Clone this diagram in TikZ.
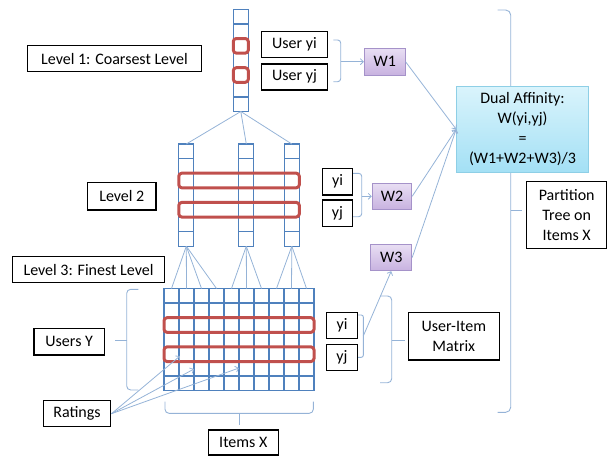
\documentclass[tikz,border=0pt]{standalone}
\usepackage{fontspec}
\setmainfont{Carlito}
\usetikzlibrary{positioning,arrows.meta,fit}

\definecolor{gridblue}{HTML}{4F81BD}
\definecolor{lineblue}{HTML}{95B3D7}
\definecolor{hlred}{HTML}{C0504D}
\definecolor{wtop}{HTML}{E8DEF3}
\definecolor{wbot}{HTML}{C8B2E0}
\definecolor{wborder}{HTML}{A592C9}
\definecolor{dtop}{HTML}{DAF4FC}
\definecolor{dbot}{HTML}{A3E0F5}
\definecolor{dborder}{HTML}{8ECFE6}

\begin{document}
\begin{tikzpicture}[x=1pt,y=-1pt,
  cell/.style={draw=gridblue, line width=1.3pt, minimum width=15pt, minimum height=14.6pt, inner sep=0pt, outer sep=0pt},
  hl/.style={draw=hlred, line width=3pt, rounded corners=3pt},
  tree/.style={draw=lineblue, line width=0.8pt},
  brace/.style={draw=lineblue, line width=0.9pt, rounded corners=4pt},
  arrow/.style={-{Straight Barb[length=3pt,width=6pt]}, draw=lineblue, line width=0.8pt},
  textbox/.style={draw=black, line width=1.5pt, align=center, inner sep=0pt, font=\fontsize{16}{20}\selectfont},
  wbox/.style={draw=wborder, line width=1pt, top color=wtop, bottom color=wbot, inner sep=0pt, font=\fontsize{16}{20}\selectfont},
  dualbox/.style={draw=dborder, line width=1pt, top color=dtop, bottom color=dbot, align=center, inner sep=0pt, font=\fontsize{16}{20}\selectfont}
]
\useasboundingbox (0,0) rectangle (607,456);

% braces
\draw[brace, rounded corners=5pt] (497.7,10) -| (510.7,412.3) -- (497.7,412.3);
\draw[brace] (510.7,210.7) -- (521.7,210.7);
\draw[brace] (138.3,289.3) -| (126.7,390) -- (138.3,390);
\draw[brace] (126.7,340.7) -- (115,340.7);
\draw[brace] (165,401.7) |- (313.3,413.3) -- (313.3,401.7);
\draw[brace] (239.3,413.3) -- (239.3,425);
\draw[brace] (380,296) -| (391.7,382.7) -- (380,382.7);
\draw[brace] (391.7,340) -- (405,340);
\draw[brace, rounded corners=3pt] (333.3,40) -| (340.7,81.7) -- (333.3,81.7);
\draw[brace, rounded corners=3pt] (353,173.3) -| (361.7,216.7) -- (353,216.7);
\draw[brace, rounded corners=2pt] (358,315) -| (363.3,357.3) -- (358,357.3);

% level 1
\foreach \i in {1,...,7}
  \node[cell] (t-\i) at (240.8,2+\i*14.6) {};
% level 2
\foreach \c/\x in {a/186.3,b/246.3,c/291.8}
  \foreach \i in {1,...,7}
    \node[cell] (\c-\i) at (\x,136.7+\i*14.6) {};
% level 3
\foreach \j in {1,...,10}
  \foreach \i in {1,...,7}
    \node[cell] (m-\i-\j) at (156.5+\j*15,281.2+\i*14.6) {};

% tree
\foreach \c in {a,b,c}
  \draw[tree] (t-7.south) -- (\c-1.north);
\foreach \j in {1,...,4}
  \draw[tree] (a-7.south) -- (m-1-\j.north);
\foreach \j in {5,6,7}
  \draw[tree] (b-7.south) -- (m-1-\j.north);
\foreach \j in {8,9,10}
  \draw[tree] (c-7.south) -- (m-1-\j.north);

% highlighted rows
\draw[hl] (t-3.north west) rectangle (t-3.south east);
\draw[hl] (t-5.north west) rectangle (t-5.south east);
\draw[hl] (a-3.north west) rectangle (c-3.south east);
\draw[hl] (a-5.north west) rectangle (c-5.south east);
\draw[hl] (m-3-1.north west) rectangle (m-3-10.south east);
\draw[hl] (m-5-1.north west) rectangle (m-5-10.south east);

% labels
\node[textbox, minimum width=174.4pt, minimum height=26pt] (lvl1) at (114.5,58.7) {Level 1: Coarsest Level};
\node[textbox, minimum width=68.3pt, minimum height=27.3pt] (lvl2) at (121.8,196.3) {Level 2};
\node[textbox, minimum width=151.6pt, minimum height=26pt] (lvl3) at (88.5,269.7) {Level 3: Finest Level};
\node[textbox, minimum width=65.6pt, minimum height=26pt] (uyi) at (294.5,44.7) {User yi};
\node[textbox, minimum width=65.6pt, minimum height=26pt, below=4.6pt of uyi] (uyj) {User yj};
\node[textbox, minimum width=29.6pt, minimum height=26.7pt] (l2yi) at (337.5,181.7) {yi};
\node[textbox, minimum width=29.6pt, minimum height=26.7pt, below=3.3pt of l2yi] (l2yj) {yj};
\node[textbox, minimum width=30.6pt, minimum height=26pt] (l3yi) at (342,325.3) {yi};
\node[textbox, minimum width=30.6pt, minimum height=26pt, below=4.6pt of l3yi] (l3yj) {yj};
\node[textbox, minimum width=70.3pt, minimum height=26.7pt] (usersy) at (69.2,341.7) {Users Y};
\node[textbox, minimum width=67.4pt, minimum height=26pt] (ratings) at (77,413.7) {Ratings};
\node[textbox, minimum width=70pt, minimum height=25pt] (itemsx) at (243.3,442.5) {Items X};
\node[textbox, minimum width=91pt, minimum height=47.3pt] (uim) at (453.8,336.3) {User-Item\\Matrix};
\node[textbox, minimum width=80pt, minimum height=66.6pt] (part) at (566.7,215) {Partition\\Tree on\\Items X};

\node[wbox, minimum width=40.7pt, minimum height=26.7pt] (w1) at (384.7,61.7) {W1};
\node[wbox, minimum width=39.4pt, minimum height=26pt] (w2) at (392,196.3) {W2};
\node[wbox, minimum width=41pt, minimum height=26.4pt] (w3) at (391.2,257.5) {W3};
\node[dualbox, minimum width=131.6pt, minimum height=86.3pt] (dual) at (522.5,129.2) {Dual Affinity:\\W(yi,yj)\\=\\(W1+W2+W3)/3};

% connectors
\coordinate (k1) at (340.7,61.7);
\coordinate (k2) at (361.7,196.3);
\coordinate (k3) at (363.3,336);
\draw[arrow] (k1) -- (w1.west);
\draw[arrow] (k2) -- (w2.west);
\draw[arrow] (k3) -- (w3.south);
\draw[arrow] (w1.east) -- (dual.west);
\draw[arrow] (w2.east) -- (dual.west);
\draw[arrow] (w3.east) -- (dual.west);

\coordinate (r1) at (180,356);
\coordinate (r2) at (194,369);
\coordinate (r3) at (239,368);
\foreach \r in {r1,r2,r3}
  \draw[arrow] (ratings.east) -- (\r);
\end{tikzpicture}
\end{document}
